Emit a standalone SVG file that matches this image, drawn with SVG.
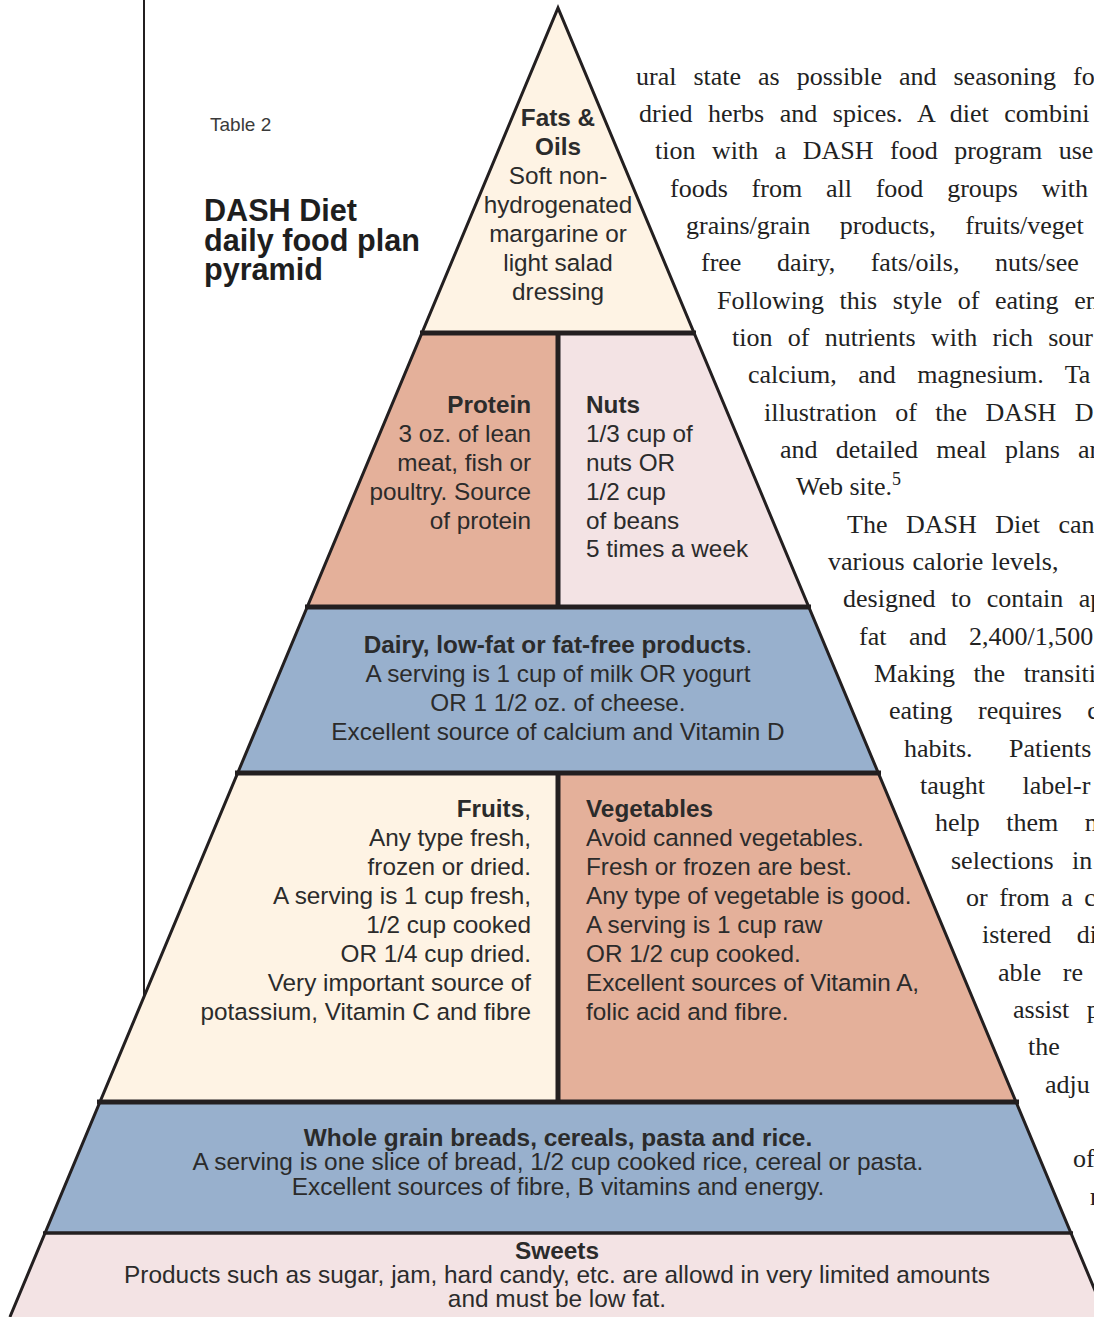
<svg xmlns="http://www.w3.org/2000/svg" width="1094" height="1317" viewBox="0 0 1094 1317">
<style>
.p{font-family:"Liberation Sans",Arial,sans-serif;font-size:24.3px;fill:#2b2b2b}
.b{font-weight:bold}
.s{font-size:24.4px}
.c{text-anchor:middle}
.r{text-anchor:end}
.body{font-family:"Liberation Serif","Times New Roman",serif;font-size:26px;fill:#222}
.cream{fill:#fef3e4}
.salmon{fill:#e4b09a}
.pink{fill:#f3e3e4}
.blue{fill:#98b0cd}
.thick{stroke:#231f20;stroke-width:5;fill:none}
.edge{stroke:#231f20;stroke-width:3;fill:none;stroke-linejoin:miter}
</style>
<rect width="1094" height="1317" fill="#ffffff"/>
<line x1="144" y1="0" x2="144" y2="997" stroke="#231f20" stroke-width="2"/>
<g id="title">
<text x="210" y="131" class="p" style="font-size:19px;fill:#3a3a3a">Table 2</text>
<text class="p b" style="font-size:30.6px;fill:#1e1e1e"><tspan x="204" y="221">DASH Diet</tspan><tspan x="204" y="250.5">daily food plan</tspan><tspan x="204" y="280">pyramid</tspan></text>
</g>
<g id="fats">
<polygon class="cream" points="558,8 694.1,333 421.9,333"/>
<text class="p c"><tspan x="558" y="126" class="b">Fats &amp;</tspan><tspan x="558" y="155" class="b">Oils</tspan><tspan x="558" y="184">Soft non-</tspan><tspan x="558" y="213">hydrogenated</tspan><tspan x="558" y="242">margarine or</tspan><tspan x="558" y="271">light salad</tspan><tspan x="558" y="300">dressing</tspan></text>
</g>
<g id="protein">
<polygon class="salmon" points="421.9,333 558,333 558,607 307.2,607"/>
<text class="p r"><tspan x="531" y="413" class="b">Protein</tspan><tspan x="531" y="442">3 oz. of lean</tspan><tspan x="531" y="471">meat, fish or</tspan><tspan x="531" y="500">poultry. Source</tspan><tspan x="531" y="529">of protein</tspan></text>
</g>
<g id="nuts">
<polygon class="pink" points="558,333 694.1,333 808.8,607 558,607"/>
<text class="p"><tspan x="586" y="413" class="b">Nuts</tspan><tspan x="586" y="442">1/3 cup of</tspan><tspan x="586" y="471">nuts OR</tspan><tspan x="586" y="500">1/2 cup</tspan><tspan x="586" y="529">of beans</tspan><tspan x="586" y="557">5 times a week</tspan></text>
</g>
<g id="dairy">
<polygon class="blue" points="307.2,607 808.8,607 878.3,773 237.7,773"/>
<text class="p c"><tspan x="558" y="653"><tspan class="b">Dairy, low-fat or fat-free products</tspan>.</tspan><tspan x="558" y="682">A serving is 1 cup of milk OR yogurt</tspan><tspan x="558" y="711">OR 1 1/2 oz. of cheese.</tspan><tspan x="558" y="740">Excellent source of calcium and Vitamin D</tspan></text>
</g>
<g id="fruits">
<polygon class="cream" points="237.7,773 558,773 558,1102 99.9,1102"/>
<text class="p r"><tspan x="531" y="817"><tspan class="b">Fruits</tspan>,</tspan><tspan x="531" y="846">Any type fresh,</tspan><tspan x="531" y="875">frozen or dried.</tspan><tspan x="531" y="904">A serving is 1 cup fresh,</tspan><tspan x="531" y="933">1/2 cup cooked</tspan><tspan x="531" y="962">OR 1/4 cup dried.</tspan><tspan x="531" y="991">Very important source of</tspan><tspan x="531" y="1020">potassium, Vitamin C and fibre</tspan></text>
</g>
<g id="vegetables">
<polygon class="salmon" points="558,773 878.3,773 1016.1,1102 558,1102"/>
<text class="p"><tspan x="586" y="817" class="b">Vegetables</tspan><tspan x="586" y="846">Avoid canned vegetables.</tspan><tspan x="586" y="875">Fresh or frozen are best.</tspan><tspan x="586" y="904">Any type of vegetable is good.</tspan><tspan x="586" y="933">A serving is 1 cup raw</tspan><tspan x="586" y="962">OR 1/2 cup cooked.</tspan><tspan x="586" y="991">Excellent sources of Vitamin A,</tspan><tspan x="586" y="1020">folic acid and fibre.</tspan></text>
</g>
<g id="grains">
<polygon class="blue" points="99.9,1102 1016.1,1102 1070.9,1233 45.1,1233"/>
<text class="p s c"><tspan x="558" y="1146" class="b">Whole grain breads, cereals, pasta and rice.</tspan><tspan x="558" y="1170">A serving is one slice of bread, 1/2 cup cooked rice, cereal or pasta.</tspan><tspan x="558" y="1195">Excellent sources of fibre, B vitamins and energy.</tspan></text>
</g>
<g id="sweets">
<polygon class="pink" points="45.1,1233 1070.9,1233 1106.1,1317 9.9,1317"/>
<text class="p s c"><tspan x="557" y="1259" class="b">Sweets</tspan><tspan x="557" y="1283">Products such as sugar, jam, hard candy, etc. are allowd in very limited amounts</tspan><tspan x="557" y="1307">and must be low fat.</tspan></text>
</g>
<g id="connectors">
<line class="thick" x1="420" y1="333" x2="696" y2="333"/>
<line class="thick" x1="305" y1="607" x2="811" y2="607"/>
<line class="thick" x1="235" y1="773" x2="881" y2="773"/>
<line class="thick" x1="97" y1="1102" x2="1019" y2="1102"/>
<line x1="43" y1="1233" x2="1073" y2="1233" stroke="#231f20" stroke-width="3.5"/>
<line class="thick" x1="558" y1="333" x2="558" y2="607"/>
<line class="thick" x1="558" y1="773" x2="558" y2="1102"/>
<polyline class="edge" points="9.9,1317 558,8 1106.1,1317"/>
</g>
<g id="body-text" class="body">
<text x="636" y="85" word-spacing="10.5">ural state as possible and seasoning fo</text>
<text x="639" y="122" word-spacing="9">dried herbs and spices. A diet combini</text>
<text x="655" y="159" word-spacing="10">tion with a DASH food program use</text>
<text x="670" y="197" word-spacing="17.3">foods from all food groups with</text>
<text x="686" y="234" word-spacing="23">grains/grain products, fruits/veget</text>
<text x="701" y="271" word-spacing="29">free dairy, fats/oils, nuts/see</text>
<text x="717" y="309" word-spacing="9.2">Following this style of eating en</text>
<text x="732" y="346" word-spacing="8.8">tion of nutrients with rich sour</text>
<text x="748" y="383" word-spacing="15">calcium, and magnesium. Ta</text>
<text x="764" y="421" word-spacing="12">illustration of the DASH D</text>
<text x="780" y="458" word-spacing="11.7">and detailed meal plans ar</text>
<text x="796" y="495">Web site.<tspan dy="-10" font-size="18">5</tspan></text>
<text x="847" y="533" word-spacing="12">The DASH Diet can</text>
<text x="828" y="570" word-spacing="1.5">various calorie levels,</text>
<text x="843" y="607" word-spacing="9">designed to contain ap</text>
<text x="859" y="645" word-spacing="16">fat and 2,400/1,500</text>
<text x="874" y="682" word-spacing="12">Making the transiti</text>
<text x="889" y="719" word-spacing="19">eating requires c</text>
<text x="904" y="757" word-spacing="30">habits. Patients</text>
<text x="920" y="794" word-spacing="31">taught label-r</text>
<text x="935" y="831" word-spacing="20">help them m</text>
<text x="951" y="869" word-spacing="12">selections in</text>
<text x="966" y="906" word-spacing="5">or from a c</text>
<text x="982" y="943" word-spacing="19">istered di</text>
<text x="998" y="981" word-spacing="15">able re</text>
<text x="1013" y="1018" word-spacing="11">assist p</text>
<text x="1028" y="1055">the</text>
<text x="1045" y="1093">adju</text>
<text x="1073" y="1167">of</text>
<text x="1090" y="1205">r</text>
</g>
</svg>
